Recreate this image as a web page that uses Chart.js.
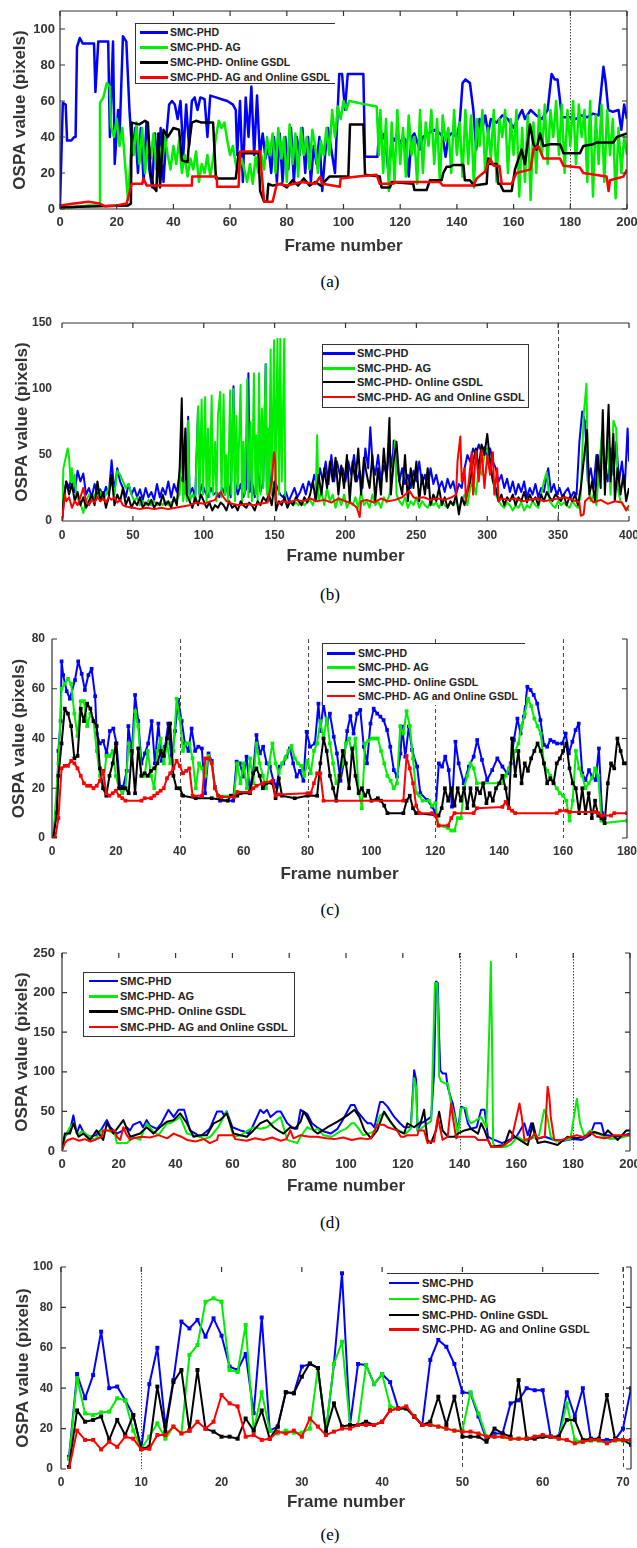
<!DOCTYPE html>
<html>
<head>
<meta charset="utf-8">
<title>OSPA comparison</title>
<script src="https://cdn.jsdelivr.net/npm/chart.js@4.4.1/dist/chart.umd.min.js"></script>
<style>
  html, body { margin: 0; padding: 0; background: #fff; }
  body { position: relative; width: 637px; height: 1548px; overflow: hidden; font-family: "Liberation Sans", Arial, sans-serif; }
  canvas { position: absolute; left: 0; }
  .legend { position: absolute; background: #fff; box-sizing: border-box; }
  .lrow { position: absolute; left: 0; width: 100%; height: 14px; white-space: nowrap; }
  .sw { position: absolute; top: 50%; }
  .lt { position: absolute; top: 0; line-height: 14px; font-weight: bold; color: #222; }
  .cap { position: absolute; width: 40px; text-align: center; font-family: "Liberation Serif", "Times New Roman", serif; font-size: 17px; line-height: 20px; color: #000; }
</style>
</head>
<body>
<script>
// Legend names and colours, shared by all five panels
const seriesNames = ['SMC-PHD', 'SMC-PHD- AG', 'SMC-PHD- Online GSDL', 'SMC-PHD- AG and Online GSDL'];
const seriesColors = ['#0000ff', '#00ee00', '#000000', '#ff0000'];

// (a) [frame, OSPA]
const aPhd = [[0,2],[1,59],[2,58],[2.5,38],[4,38],[5,40],[5.5,40],[6,90],[7,95],[8,92],[10,92],[12,92],[12.5,65],[13.5,93],[16,93],[17,93],[17.6,40],[18.7,93],[19.3,25],[20.5,55],[21,40],[22.2,96],[23.4,93],[24.5,55],[25.5,30],[26.5,45],[27.5,20],[28.5,45],[29.5,15],[30.5,48],[31.5,22],[32.5,12],[33.5,42],[34.5,18],[35.5,45],[36.5,15],[37.5,40],[38.5,58],[39.5,60],[40.5,58],[41.5,50],[42.5,60],[43.5,30],[44.5,58],[45.5,35],[46.5,60],[47.5,62],[48.5,55],[49.5,62],[51,61],[52,40],[53,63],[55,62],[57,61],[59,60],[61,58],[62,55],[62.5,30],[63.5,60],[64.5,15],[65.5,62],[66.5,40],[67.5,68],[68.5,30],[69.5,63],[70.5,30],[71.5,42],[72.5,28],[73.5,35],[74.5,20],[75.5,40],[76.5,15],[77.5,42],[78.5,15],[79.5,40],[80.5,22],[81.5,45],[82.5,15],[83.5,40],[84.5,30],[85.5,45],[86.5,20],[87.5,40],[88.5,15],[89.5,35],[90.5,25],[91.5,40],[92.5,10],[93.5,30],[94.5,45],[96,30],[97,20],[98.5,75],[99.5,75],[100.5,55],[101.5,75],[104,75],[107,75],[107.6,29],[110,29],[112,29],[112.8,51],[113.5,38],[114.5,42],[116,18],[117,40],[118,38],[119,42],[120,36],[121,40],[122,38],[123,18],[124,40],[125,42],[126.9,33],[128,40],[130,42],[132,44],[134,42],[135,40],[136,29],[137,40],[138,42],[140,40],[141,48],[142,70],[143,72],[144.6,70],[145.8,55],[146.8,33],[148,50],[149,45],[150,52],[151,42],[152,50],[154,48],[156,52],[158,50],[160,45],[162,52],[163,55],[164,50],[166,55],[168,52],[170,50],[172,55],[173.4,75],[174.5,72],[175.5,72],[176.4,60],[177,51],[180,51],[182,50],[184,52],[186,51],[188,53],[190,52],[191.7,79],[192.5,70],[193.4,55],[195,54],[197,55],[198,44],[199,58],[200,50]];
const aAg = [[0,0],[5,1],[10,2],[14,2],[14.1,59],[15.3,62],[16.5,70],[17.6,68],[18,46],[19,40],[20,50],[21,35],[22,45],[23,24],[24,5],[25.3,40],[26,30],[27,48],[28,25],[29,45],[30,20],[31,38],[32,28],[33,42],[34,22],[35,35],[36,25],[37,40],[38,30],[39,22],[40,35],[41,25],[42,38],[43,20],[44,30],[45,18],[46,28],[47,22],[48,32],[49,15],[50,25],[51,20],[52,30],[53,18],[54,28],[55,40],[56,49],[57,45],[58,48],[59,38],[60,30],[61,35],[62,25],[63,20],[64,28],[65,22],[66,15],[67,25],[68,14],[69,29],[70,20],[71,30],[72,22],[73,40],[74,30],[75,42],[76,20],[77,45],[78,28],[79,40],[80,15],[81,47],[82,25],[83,42],[84,18],[85,45],[86,30],[87,40],[88,22],[89,44],[90,35],[91,20],[92,38],[93,30],[94,45],[95,30],[96,55],[97,40],[98,57],[99,50],[100,60],[101,55],[102,60],[105,59],[108,58],[111.7,57],[112.5,30],[113,55],[114,20],[115,50],[116,10],[117,48],[118,15],[119,55],[120,25],[121,45],[122,18],[123,52],[124,30],[125,40],[126,14],[127,55],[128,20],[129,48],[130,35],[131,55],[132,25],[133,50],[134,15],[135,52],[136,38],[137,45],[138,20],[139,55],[140,30],[141,48],[142,18],[143,55],[144,25],[145,52],[146,12],[147,50],[148,35],[149,55],[150,20],[151,45],[152,28],[153,55],[154,15],[155,50],[156,40],[157,55],[158,20],[159,50],[160,30],[161,55],[162,7],[163,45],[164,15],[165,52],[166,5],[167,48],[168,20],[169,55],[170,30],[171,58],[172,25],[173,55],[174,40],[175,60],[176,30],[177,58],[178,20],[179,55],[180,35],[181,60],[182,25],[183,58],[184,40],[185,55],[186,15],[187,60],[188,7],[189,52],[190,25],[191,58],[192,15],[193,55],[194,30],[195,50],[196,6],[197,45],[198,20],[199,40],[200,30]];
const aGsdl = [[0,1],[24,2],[25,3],[25.3,48],[28,47],[30,49],[31,48],[32,20],[33,12],[34,10],[34.7,42],[35.3,12],[36.5,44],[38,40],[40,45],[42,44],[43,27],[45,26],[45.3,33],[46.5,48],[48,49],[50,48],[54,48],[55,17],[62,17],[63,31],[70,31],[70.6,10],[72,4],[73,4],[73.5,14],[75,13],[78,14],[80,12],[82,16],[84,13],[86,17],[88,13],[90,15],[92,13],[95,18],[101.7,18],[102.3,47],[107,47],[107.6,19],[112.8,18],[113.4,12],[116.4,12],[117,15],[124.6,14],[125,10.5],[129.3,10.5],[130.5,16],[134.6,16],[135.2,20],[136.4,23.5],[137.6,23.5],[138.7,24.4],[142.3,24.4],[142.8,16],[144.6,16],[146,13],[150.5,14],[151,28],[151.6,25],[154,25],[154.6,14],[155.2,14],[156.4,10],[159.3,10],[160.5,22],[162.8,33],[164,25],[165.8,47],[167,36],[168.1,33],[169.3,42],[170.5,35],[172.8,36],[176.4,36],[177.6,31],[183.4,31],[184.6,35],[188.1,36],[189.3,37],[195.2,37],[196.4,40],[200,42]];
const aAgGsdl = [[0,2],[5,3],[10,4],[14,3],[16,1.5],[20,2],[23.5,3],[24,6],[25.3,14],[29,14],[29.4,17],[30.6,13],[46.5,13],[46.6,18],[55.3,18],[55.4,12.4],[63,12.4],[63.5,32],[70.6,32],[71,22.6],[72,4],[75,4],[76.5,14],[80,13],[85,15],[90,14],[91.8,18],[92.5,14],[98.7,12.4],[99,17],[105,18],[111.7,19],[112.8,14],[117.6,14],[118,15],[134,15],[135,13],[145.8,13],[147,17],[150,21],[151.7,28],[153,24],[155,24],[155.8,14],[159.3,14],[161,20],[166,22],[167,33],[168.7,35],[170.5,28],[176.4,28],[177.6,24],[183.4,23],[184.6,20],[192.8,18],[193.5,10],[194,16],[198.7,18],[200,22]];

// (b)
const bPhd = [[0,0],[2,22],[3,30],[5,25],[7,35],[9,22],[11,38],[13,30],[15,36],[17,20],[19,25],[21,18],[23,28],[25,20],[27,24],[29,18],[31,26],[33,20],[35,46],[37,22],[39,40],[41,30],[43,25],[45,18],[47,28],[49,20],[51,25],[53,18],[55,24],[57,16],[59,25],[61,18],[63,22],[65,16],[67,28],[69,18],[71,25],[73,20],[75,30],[77,18],[79,28],[81,22],[83,35],[85,30],[87,25],[89,79],[90,20],[92,25],[94,18],[96,85],[97,20],[99,28],[101,22],[103,18],[105,25],[107,20],[109,22],[111,18],[113,25],[115,20],[117,30],[119,18],[121,102],[122,30],[124,20],[126,28],[128,18],[130,25],[131.5,112],[132.5,22],[134,30],[136,18],[138,40],[140,22],[142,30],[143.7,119],[144.5,25],[146,40],[148,20],[150,30],[152,25],[154,20],[156,18],[158,22],[160,15],[162,20],[164,25],[166,18],[168,22],[170,28],[172,20],[174,30],[176,25],[178,35],[180,25],[182,40],[184,30],[186,45],[188,28],[190,50],[192,30],[194,45],[196,35],[198,40],[200,30],[202,45],[204,35],[206,50],[208,30],[210,38],[212,25],[214,55],[216,40],[217.5,71],[219,45],[221,35],[223,50],[225,30],[227,42],[229,35],[231,55],[233,40],[234,61],[236,45],[238,30],[240,40],[242,28],[244,35],[246,25],[248,38],[250,30],[252,45],[254,28],[256,35],[258,25],[260,40],[262,28],[264,35],[266,25],[268,30],[270,22],[272,32],[274,25],[276,30],[278,20],[280,28],[282,25],[284,40],[286,50],[288,45],[290,55],[292,50],[294,58],[296,52],[298,56],[300,50],[302,55],[304,45],[306,40],[308,30],[310,35],[312,25],[314,32],[316,22],[318,30],[320,20],[322,28],[324,22],[326,30],[328,18],[330,25],[332,20],[334,28],[336,18],[338,25],[340,22],[342,35],[343,40],[345,22],[347,28],[349,20],[351,25],[353,18],[355,22],[357,25],[359,18],[361,22],[363,20],[365,60],[367,83],[369,75],[371,30],[373,40],[375,25],[377,50],[379,35],[381,65],[383,40],[385,30],[387,55],[389,35],[391,60],[393,30],[395,45],[397,25],[399,70],[400,45]];
const bAg = [[0,0],[1,40],[3,50],[4,55],[5,48],[6,30],[7,40],[8,25],[9,35],[10,20],[12,15],[14,10],[15,6],[17,15],[19,20],[21,15],[23,20],[25,18],[27,22],[29,16],[31,20],[33,25],[35,30],[37,20],[39,38],[41,35],[43,30],[45,25],[47,28],[49,20],[51,15],[53,18],[55,12],[57,15],[59,12],[61,16],[63,12],[65,15],[67,12],[69,14],[71,12],[73,15],[75,12],[77,14],[79,15],[81,16],[83,20],[84.7,65],[85.5,15],[87,30],[88,15],[89,76],[90,15],[92,20],[94,15],[96,87],[97,18],[98.5,92],[99.5,20],[101,94],[102,15],[103,70],[104,18],[105.6,95],[106.5,20],[108,60],[109,15],[110,80],[111.6,98],[112.5,18],[114,96],[115,20],[116,50],[117,15],[118.6,99],[119.5,20],[121,100],[122,15],[123,80],[124,25],[126,103],[127,15],[128,60],[129,20],[130.7,108],[131.5,18],[133,75],[134,15],[135.4,112],[136.5,20],[137,65],[138,15],[139,112],[140,20],[141,85],[142,25],[143.7,119],[144.5,20],[145.5,70],[146,15],[147.2,130],[148,20],[149,90],[149.6,137],[150.5,25],[151,60],[152,138],[153,20],[154,138],[155,30],[156.8,138],[157.5,15],[159,12],[161,15],[163,12],[165,14],[167,12],[169,15],[171,12],[173,14],[175,16],[177,12],[179,20],[180,65],[181,15],[183,22],[185,12],[187,25],[189,15],[191,20],[193,10],[195,18],[197,12],[199,20],[201,10],[203,15],[205,12],[207,18],[209,10],[211,22],[213,12],[215,15],[217,10],[219,20],[221,12],[223,15],[225,10],[227,18],[229,14],[231,20],[233,35],[235,61],[236,20],[238,15],[240,12],[242,18],[244,10],[246,15],[248,12],[250,18],[252,10],[254,15],[256,12],[258,10],[260,15],[262,12],[264,14],[266,10],[268,15],[270,12],[272,10],[274,14],[276,12],[278,15],[280,10],[282,15],[284,20],[286,12],[288,25],[290,30],[292,20],[294,40],[296,35],[298,50],[300,55],[302,45],[304,30],[306,20],[308,15],[310,12],[312,10],[314,14],[316,12],[318,8],[320,12],[322,10],[324,14],[326,8],[328,12],[330,10],[332,15],[334,12],[336,10],[338,20],[340,30],[342,37],[344,15],[346,12],[348,10],[350,15],[352,12],[354,14],[356,12],[358,10],[360,15],[362,12],[364,10],[366,20],[368,80],[370,104],[371,30],[373,15],[375,20],[377,12],[379,40],[381,68],[383,30],[385,60],[387,20],[389,76],[391,70],[392,25],[394,15],[396,12],[398,10],[400,8]];
const bGsdl = [[0,0],[1,15],[3,30],[5,20],[7,28],[9,15],[11,22],[13,12],[15,18],[17,10],[19,15],[21,20],[23,12],[25,30],[27,15],[29,22],[31,10],[33,18],[35,35],[37,12],[39,20],[41,15],[43,25],[45,12],[47,18],[49,10],[51,15],[53,12],[55,18],[57,10],[59,14],[61,12],[63,16],[65,10],[67,14],[69,12],[71,20],[73,12],[75,15],[77,10],[79,18],[81,12],[83,40],[84.5,93],[85.5,30],[87,70],[88,20],[90,15],[92,10],[94,18],[96,12],[98,20],[100,15],[102,10],[104,14],[106,8],[108,12],[110,10],[112,14],[114,12],[116,8],[118,15],[120,10],[122,12],[124,8],[126,15],[128,12],[130,10],[132,14],[134,12],[136,8],[138,15],[140,12],[142,18],[144,15],[146,20],[148,12],[150,30],[151,8],[153,15],[155,12],[157,18],[159,10],[161,15],[163,12],[165,18],[167,15],[169,12],[171,18],[173,14],[175,20],[177,30],[179,15],[181,35],[183,20],[185,40],[187,25],[189,45],[191,30],[193,48],[195,20],[197,42],[199,25],[201,50],[203,15],[205,45],[207,30],[209,55],[211,20],[213,48],[215,35],[217,25],[219,50],[221,15],[223,40],[225,20],[227,55],[229,30],[231,78],[232,20],[234,45],[236,60],[238,30],[240,20],[242,50],[244,15],[246,40],[248,25],[250,45],[252,15],[254,35],[256,20],[258,40],[260,12],[262,20],[264,15],[266,25],[268,12],[270,18],[272,10],[274,15],[276,12],[278,20],[280,5],[282,18],[284,12],[286,22],[288,30],[290,45],[292,55],[294,40],[296,58],[298,50],[300,66],[302,45],[304,30],[306,25],[308,15],[310,20],[312,12],[314,18],[316,15],[318,20],[320,12],[322,18],[324,15],[326,22],[328,14],[330,20],[332,15],[334,18],[336,12],[338,20],[340,15],[342,22],[344,18],[346,15],[348,20],[350,18],[352,15],[354,20],[356,12],[358,18],[360,15],[362,20],[364,12],[366,25],[368,45],[370.4,69],[372,20],[374,30],[376,15],[378,50],[380,25],[381.5,84],[383,20],[385.6,88],[387,30],[389,66],[390,15],[392,40],[394,20],[396,35],[398,15],[400,25]];
const bAgGsdl = [[0,0],[1,10],[2,20],[3,15],[5,18],[7,10],[9,15],[11,12],[13,18],[15,25],[17,15],[19,12],[21,16],[23,14],[25,18],[27,15],[29,17],[31,14],[33,18],[35,16],[37,18],[39,14],[41,16],[43,12],[45,11],[50,10],[55,9],[60,10],[65,9],[70,10],[75,9],[80,10],[85,11],[90,12],[95,14],[100,13],[105,15],[108,16],[110,20],[112,22],[114,18],[116,15],[120,13],[125,12],[130,13],[135,12],[140,13],[145,14],[148,30],[149.6,52],[150.5,45],[151,15],[153,13],[155,15],[160,14],[165,16],[170,15],[175,17],[180,15],[185,16],[190,14],[195,17],[200,15],[205,13],[208,10],[210,3],[211,15],[215,16],[220,14],[225,17],[230,15],[235,16],[240,18],[245,23],[248,18],[250,17],[255,18],[260,16],[265,17],[270,16],[275,18],[278,20],[279,45],[281,64],[282,30],[284,40],[285,15],[287,30],[289,52],[290,20],[292,53],[294,30],[296,54],[298,25],[300,50],[302,35],[304,52],[305,20],[307,40],[308,15],[310,17],[315,16],[320,17],[325,15],[330,16],[335,17],[340,15],[345,16],[350,17],[355,18],[360,16],[365,14],[366,4],[368,5],[369,15],[372,18],[375,14],[380,16],[385,13],[390,15],[395,14],[398,8],[400,12]];

// (c)
const cPhd = [[0.4,0.5],[1.5,12.6],[2,35],[2.7,47],[3,71],[3.5,65.5],[4.6,59],[5.6,56],[7.2,63.5],[8.2,71],[9.3,66],[10.3,59.5],[11.4,65.5],[12.4,68],[13.5,57],[14,42],[15,38],[16,39],[17.1,34],[18.1,43],[19.2,44],[20.2,38],[21.3,20.6],[22.3,20.6],[23.4,27],[23.9,45],[25,34],[26,57.5],[27,47],[28,30],[29.1,34],[30.1,38],[31.2,47],[32.2,30],[33.3,46],[34.3,31],[35.4,36.7],[36.4,46],[37.4,31],[38.5,43],[39.5,55.5],[40.6,47],[41.6,38],[42.7,35],[43.7,44],[44.8,35],[45.8,36.7],[46.9,36],[47.9,18],[49,34],[50,31],[51,20.6],[52.6,15],[56.7,15],[57.8,30.7],[58.8,30],[59.9,24.7],[60.9,32.7],[61.9,19.3],[63,27],[64,41.4],[65.1,34],[66.1,36.7],[67.2,30],[68.2,28.7],[69.3,23],[70.3,20.6],[71.3,28.7],[72.4,30],[73.4,32.7],[74.5,36],[75.5,30],[76.6,24.7],[77.6,27],[78.7,23],[79.7,42.7],[80.8,36.7],[82.3,38],[83.4,54],[84,43],[85,54],[86,46],[87,50],[88.2,40.7],[89.2,34],[90.3,23],[91.3,30],[92.4,43],[93.4,49],[94.4,42],[95.5,50],[96.5,51.5],[97.6,36.7],[98.6,30],[99.7,46],[100.7,52],[101.8,50],[102.8,48.8],[103.8,47.4],[104.9,43.4],[105.9,36.7],[107,27.3],[108,24.7],[109.1,34],[109.6,44.8],[110.6,32.7],[111.7,44.8],[112.7,35.4],[114.3,28.7],[115.3,18],[117.4,15.3],[119,12.6],[120,10],[121.1,30],[122.1,28.7],[123.1,32.7],[124.2,27.3],[125.2,12.6],[126.3,38.7],[127.3,30],[128.9,22],[130.5,28.7],[132,32.7],[133.1,39.4],[134.6,31.4],[136.2,23.3],[137.8,27.3],[139.4,32],[141,28.7],[142.5,26],[143.6,30],[144.6,39.4],[145.7,48],[146.7,42],[147.7,48.8],[148.8,60.8],[149.8,59.5],[150.8,57.5],[151.9,54],[152.9,47.4],[154,37.4],[155,36.7],[156,39.4],[157.1,38.7],[158.1,38],[159.7,38],[160.8,42],[161.8,34],[162.9,38.7],[163.9,43.4],[164.9,46],[166,26],[167,23.3],[168.1,27.3],[169.1,24.7],[170.2,23.3],[171.2,36],[172.2,10],[173,8]];
const cAg = [[0.4,0],[2,30],[3,60],[4,62],[5,64],[6,62],[7,50],[8,41],[9,55],[10,55],[11,45],[12,50],[13,47],[14,35],[15,25],[16,20],[17,33],[18,33],[19,35],[20,25],[21,20],[22,18],[23,20],[24,38],[25,30],[26,51],[27,45],[28,25],[29,25],[30,35],[31,25],[32,20],[33,35],[34,40],[35,30],[36,38],[37,30],[38,35],[39,56],[40,48],[41,35],[42,38],[43,38],[44,32],[45,20],[46,30],[47,28],[48,25],[49,33],[50,30],[51,20],[52,17],[57,17],[58,30],[59,22],[60,30],[61,20],[62,32],[63,22],[64,38],[65,30],[66,25],[67,20],[68,30],[69,38],[70,30],[71,26],[72,30],[73,32],[74,35],[75,37],[76,32],[77,30],[78,29],[79,25],[80,31],[81,26],[82,35],[83,38],[84,47],[85,40],[86,48],[87,38],[88,30],[89,22],[90,25],[91,30],[92,38],[93,40],[94,33],[95,40],[96,19],[97,12],[98,38],[99,39],[100,40],[101,40],[102,40],[103,35],[104,30],[105,25],[106,23],[107,20],[108,22],[109,45],[110,42],[111,51],[112,45],[113,32],[114,18],[115,17],[116,15],[118,15],[119,13],[120,14],[121,5],[124,4],[125,3],[126,3],[127,8],[128,8],[129,20],[130,25],[131,30],[132,28],[133,22],[141,22],[142,25],[143,28],[144,32],[145,35],[146,38],[147,45],[148,50],[149,56],[150,53],[151,48],[152,45],[153,42],[154,30],[155,27],[156,25],[157,22],[158,20],[159,18],[160,17],[161,15],[162,7],[163,15],[164,35],[165,28],[166,25],[167,20],[168,22],[169,24],[170,28],[171,25],[172,7],[173,6],[180,7]];
const cGsdl = [[0.4,0],[1.5,10],[2,25],[3,38],[4,52],[5,50],[6,45],[7,32],[8,33],[9,52],[10,47],[11,54],[12,52],[13,47],[14,45],[15,28],[16,20],[17,17],[18,25],[19,30],[20,38],[21,20],[22,20],[23,20],[24,18],[25,35],[26,18],[27,36],[28,25],[29,26],[30,25],[31,27],[32,28],[33,30],[34,35],[35,33],[36,40],[37,46],[38,25],[39,20],[40,20],[41,17],[45,16],[50,16],[55,15],[56,17],[58,17],[59,18],[62,18],[63,26],[64,28],[65,25],[66,20],[67,22],[69,22],[70,16],[71,24],[72,17],[76,16],[80,17],[83,17],[84,30],[85,40],[86,35],[87,25],[88,20],[89,15],[90,25],[91,35],[92,30],[93,20],[94,36],[95,25],[96,18],[97,20],[98,17],[99,19],[100,15],[102,16],[103,15],[104,13],[105,10],[110,10],[111,15],[112,17],[113,12],[114,10],[121,9],[122,12],[123,20],[124,15],[125,20],[126,13],[127,20],[128,15],[129,20],[130,12],[131,20],[132,13],[133,20],[134,18],[135,22],[136,14],[137,18],[138,15],[139,20],[140,22],[141,25],[142,20],[143,12],[144,40],[145,25],[146,35],[147,22],[148,30],[149,27],[150,32],[151,35],[152,38],[153,35],[154,30],[155,22],[156,24],[157,22],[158,30],[159,32],[160,35],[161,38],[162,28],[163,22],[164,20],[165,10],[166,20],[167,10],[168,18],[169,8],[170,15],[171,9],[172,8],[173,6],[174,22],[175,30],[176,28],[177,40],[178,35],[179,30],[180,30]];
const cAgGsdl = [[0.4,0],[1,0],[2,8],[3,28],[4,29],[5,29],[6,31],[7,30],[8,28],[9,25],[10,22],[11,21],[12,21],[13,20],[14,21],[15,23],[16,27],[17,18],[18,17],[19,18],[20,19],[21,17],[22,16],[23,15],[28,15],[29,16],[31,16],[32,17],[33,18],[34,19],[35,20],[36,24],[37,26],[38,28],[39,31],[40,29],[41,26],[42,27],[43,28],[44,17],[47,17],[48,32],[49,32],[50,30],[51,20],[52,17],[53,16.5],[57,16.5],[58,18.5],[62,18.5],[63,20],[64,21],[66,22],[69,23],[70,17],[71,17.5],[80,18],[81,18],[82,22],[83,26],[84,26],[85,15],[110,15],[111,33],[112,28],[113,22],[114,13],[115,10],[119,10],[120,9],[121,5],[124,5],[125,8],[126,10],[132,10],[133,12],[141,12.5],[142,14.5],[143,12],[144,11],[145,10],[158,10],[159,11],[161,11],[162,10.5],[170,10.5],[171,10],[172,9],[175,9],[176,10],[180,10]];

// (d)
const dPhd = [[0,1],[1,18],[2.8,26],[4,45],[5.2,22],[6.3,33],[7.5,24],[8.7,20],[10,18],[12,20],[14,28],[15.8,39],[17,30],[19.3,22],[21,25],[22.8,30],[24,26],[25,33],[27.5,37],[28.5,30],[29.8,39],[31,32],[33.4,28],[35,35],[37.5,52],[39.3,43],[41,52],[43,52],[45.1,26],[47,22],[48.6,18],[50,22],[52,28],[54.6,50],[56.3,50],[57,45],[58,50],[60,30],[62.8,26],[64,25],[65.6,22],[67,30],[69.8,52],[71,48],[72.2,52],[73.4,43],[75.7,50],[77,50],[79.3,35],[81,30],[82.8,28],[84,52],[86.3,47],[88,35],[89.8,30],[92,25],[94.6,22],[97,28],[99,40],[101.7,58],[103,58],[104,50],[106.5,39],[107.6,35],[108.8,35],[110,30],[112,62],[113,62],[114.6,56],[117,43],[119,35],[120.5,30],[122.8,30],[124,102],[124.7,90],[125.2,26],[126.4,35],[128,38],[130,43],[131,98],[131.7,214],[132.3,212],[132.8,144],[133.2,102],[134,98],[135.2,98],[135.8,81],[137,66],[137.6,60],[139.4,26],[140.5,56],[141.7,54],[142.9,35],[144,28],[146,30],[147.6,52],[148.8,52],[150,18],[151,16],[155,10],[158,15],[160,18],[162.8,35],[164,20],[165.2,35],[167,15],[170,18],[175,12],[180,15],[183,14],[186,20],[187.5,35],[189.9,35],[191,20],[192.2,20],[195,18],[198,20],[200,22]];
const dAg = [[0,1],[1,18],[2.8,30],[4,35],[5.5,20],[7,25],[9,20],[11.6,14],[14,26],[16,26],[18.6,22],[19.3,10],[22.9,10],[25,18],[27.5,14],[29.8,35],[32,25],[34,20],[37,35],[38,35],[40.4,40],[41.6,43],[44,22],[46,20],[48.6,18],[50,15],[52.2,18],[55,30],[58,50],[60.4,18],[63,20],[65,25],[67.4,30],[70,28],[72.2,30],[74,35],[77,43],[78,30],[79.3,14],[81,12],[82.8,10],[84,18],[86.3,30],[88.6,26],[90,28],[92,20],[95,18],[98,25],[100,28],[102,35],[103,35],[104.5,28],[106,20],[108,22],[110,25],[112,45],[113.4,48],[115,40],[117,30],[119,25],[121,22],[122.8,28],[124,92],[124.7,80],[125.2,25],[127,30],[130,38],[131.3,212],[132,212],[132.3,195],[132.8,94],[133.5,88],[135,85],[135.8,86],[137,60],[138.5,40],[139.4,20],[140.5,54],[142.3,54],[143,40],[144,35],[145.5,38],[147.6,43],[149.4,30],[150.5,161],[151,239],[151.4,148],[151.8,10],[152.5,5],[156,5],[158,8],[160.5,18],[163,12],[165,15],[168,20],[169.8,52],[170.9,43],[172.1,18],[174,12],[177,14],[179,15],[181.3,66],[182.4,35],[184,18],[186,26],[188.3,22],[190,20],[193,15],[196,16],[198,18],[200,20]];
const dGsdl = [[0,1],[1,22],[2.8,22],[4,35],[5.8,18],[7.5,22],[9.9,14],[12.2,26],[14.5,14],[15.8,35],[18.1,22],[21.6,39],[24,18],[27.5,22],[29.8,30],[32.2,22],[34.5,30],[36.9,37],[39.3,39],[41.6,47.5],[44,35],[46.3,18],[48.6,20],[51,20],[53.4,35],[55.7,39],[58,47.5],[60.4,22],[62.8,20],[65.1,18],[67.4,26],[69.8,35],[72.2,39],[74.5,30],[76.5,25],[78,22],[80.4,30],[82,28],[84,37],[85.1,49.7],[86.3,43],[88.6,26],[90,22],[93.5,30],[97,37],[100.5,45],[103,52],[104.7,43],[106.5,26],[108.8,16],[111,26],[113.4,49.7],[115.7,37],[118,26],[120.5,22],[121.6,35],[124,30],[126.4,37],[127.5,52],[128.7,14],[129.9,10],[131.7,26],[132.8,49.7],[134,26],[135.8,18],[138.2,18],[139.4,22],[141.7,26],[144,28],[146.5,22],[147.6,35],[148.8,26],[150,14],[151.1,5.5],[155.8,7.5],[157.6,26],[159.4,18],[162.9,10],[164,7.5],[165.8,35],[167.5,10],[170,12],[172.1,10],[174.5,7.5],[178,18],[181,16],[183.9,18],[187.5,24],[191,20],[192.2,26],[195.7,14],[198.7,26],[200,26]];
const dAgGsdl = [[0,1],[1,10],[2,14],[4,16],[6,13],[8,15],[10,12],[11.6,14],[14,18],[14.5,26],[18.6,26],[19.3,18],[20.5,14],[21.6,30],[22.8,20],[24,14],[25,16],[28,18],[31,17],[34,20],[37,16],[39.3,22],[42,18],[44,14],[47,12],[50,15],[52,10],[54.6,14],[55,20],[60.4,20],[61,15],[65,13],[68,16],[71,14],[74,17],[77,13],[79,15],[80.4,26],[81.5,16],[84,20],[87,18],[89.8,18],[93,16],[96,15],[99,17],[102,14],[105,16],[107.6,15],[108.8,16],[111,33],[113.4,33],[114.6,30],[118,26],[119.3,18],[120.5,18],[121.6,20],[125.2,20],[125.5,26],[127.5,26],[128.7,10],[129.9,12],[131,12],[132.3,43],[132.8,35],[134,14],[135.8,18],[137,60],[137.6,43],[138.8,16],[139.4,18],[145.3,18],[146.5,14],[150,14],[151.1,5.5],[154.7,5.5],[155.8,7.5],[158.2,14],[161.1,60],[161.9,43],[162.8,14],[165.2,16],[166.4,22],[167.5,16],[170,18],[171,81],[171.6,68],[172.1,43],[173.3,14],[176,14],[179.2,18],[181.3,20],[184,17],[186,24],[188,18],[191,16],[193.2,18],[194.4,20],[197,20],[200.3,20]];

// (e) one value per frame
const eFrames = [1,2,3,4,5,6,7,8,9,10,11,12,13,14,15,16,17,18,19,20,21,22,23,24,25,26,27,28,29,30,31,32,33,34,35,36,37,38,39,40,41,42,43,44,45,46,47,48,49,50,51,52,53,54,55,56,57,58,59,60,61,62,63,64,65,66,67,68,69,70,71];
const ePhd = [6,47,35,46.5,68,40,40.8,34,26.7,10,42,60,21,44,73,69.6,73.8,65.5,74.6,66,50.7,49,57,27.6,75,19,21,38,37.5,50.7,52,50,18.5,52,96.9,21.8,52,51.5,42,47,43,30,30,26,21.8,54,63.9,60.5,52,38,37.5,26,14.4,17.6,17.6,32.5,34,40,39,39,16,16,38,26,40,14.4,14.4,14.4,14.4,20,40];
const eAg = [5,45,27.5,26.7,28,28.4,35,34,19,10,16,22.6,15,21,17.6,56.4,61.4,82.8,84.5,82.8,49,48,71.3,19,38,19,17.6,19,18,18,20,50,19,52,63,21.8,21.8,51.5,42,47,31,30,30,26,21.8,22,21,20,19,19,38,27.5,16,16,16,15,15,15,16,16,16,15,32.5,14.4,13.5,14,14,13,14,14,14];
const eGsdl = [1,29,23.4,24.3,26,14.4,24.3,16.8,26.7,10,11,40.8,18.5,43,49,19,49,20,18.5,16,16,15,25,19,29,15,21,38,37.5,45.7,52.3,50,18.5,32.5,21,21.8,21.8,23.4,21.8,23.4,29,30,30,26,21.8,23.4,35.8,21.8,35.8,16,16,16,13.5,20,17.6,16,44,15,15,16,16,16,24.3,24.3,14.4,15,15,36.6,15,14.4,12];
const eAgGsdl = [0,19,14.4,14.4,9.7,13.5,11,16,15,9.7,10,16.8,16.8,21,17.6,19,23.4,20,23.4,36.6,32.5,31,16,16.8,14.4,15,18.5,17.6,19,16,25,21,16.8,18.5,20,20,21.8,21.8,21.8,23.4,29,30,31,26,21.8,21.8,21,20,19,18.5,18.5,17.6,16,16,16,15,15,15,16,16.8,16,15,14.4,12.7,13.5,14.4,14.4,12.7,14.4,14.4,14.4];

const toPairs = vals => eFrames.map((f, i) => [f, vals[i]]);

// Layout of each panel, in page pixels
const panels = [
  { top: 0, titleY: 247, plot: { left: 60, right: 627, top: 11, bottom: 209 },
    xMax: 200, xStep: 20, yMax: 110, yStep: 20, series: [aPhd, aAg, aGsdl, aAgGsdl],
    lineWidth: 2.5, pointRadius: 0, tickFont: 13, xTickPad: 6, yTickPad: 5, yTitlePad: 10,
    vlines: [[180, 'dot']], sides: 'tlbr', tickSides: 'tlbr',
    legend: { left: 135, top: 23, width: 200, height: 61, sides: 'tlb', rows: [32, 47, 62, 77], swFrom: 140, swTo: 168, textX: 170, font: 10.5, sw: [3, 3, 3, 3] },
    caption: ['(a)', 282] },
  { top: 300, titleY: 557, plot: { left: 62, right: 629, top: 323, bottom: 521 },
    xMax: 400, xStep: 50, yMax: 150, yStep: 50, series: [bPhd, bAg, bGsdl, bAgGsdl],
    lineWidth: 2, pointRadius: 0, tickFont: 12, xTickPad: 7, yTickPad: 10, yTitlePad: 12,
    vlines: [[350, 'dash']], sides: 'tb', tickSides: 'tb',
    legend: { left: 322, top: 344, width: 207, height: 64, sides: 'tlbr', rows: [353, 368, 382, 397], swFrom: 323, swTo: 355, textX: 357, font: 11, sw: [3, 3, 1.5, 1.5] },
    caption: ['(b)', 595] },
  { top: 620, titleY: 875, plot: { left: 52, right: 627, top: 639, bottom: 838 },
    xMax: 180, xStep: 20, yMax: 80, yStep: 20, series: [cPhd, cAg, cGsdl, cAgGsdl],
    lineWidth: 2, pointRadius: 1.2, tickFont: 12, xTickPad: 6, yTickPad: 7, yTitlePad: 9,
    vlines: [[40, 'dash'], [80, 'dash'], [120, 'dash'], [160, 'dash']], sides: 'lr', tickSides: 'lr',
    legend: { left: 322, top: 643, width: 203, height: 62, sides: 'tl', rows: [653, 667, 682, 696], swFrom: 327, swTo: 355, textX: 358, font: 10.5, sw: [3, 3, 1.5, 2] },
    caption: ['(c)', 910] },
  { top: 930, titleY: 1187, plot: { left: 62, right: 630, top: 953, bottom: 1151 },
    xMax: 200, xStep: 20, yMax: 250, yStep: 50, series: [dPhd, dAg, dGsdl, dAgGsdl],
    lineWidth: 2, pointRadius: 0, tickFont: 13, xTickPad: 6, yTickPad: 7, yTitlePad: 12,
    vlines: [[140, 'dot'], [180, 'dot']], sides: 'lr', tickSides: 'tlr',
    legend: { left: 83, top: 972, width: 212, height: 65, sides: 'tlbr', rows: [981, 996, 1011, 1027], swFrom: 89, swTo: 118, textX: 120, font: 11, sw: [1.5, 3, 3, 1.5] },
    caption: ['(d)', 1223] },
  { top: 1245, titleY: 1503, plot: { left: 61, right: 635, top: 1267, bottom: 1469 },
    xMax: 71, xStep: 10, yMax: 100, yStep: 20, series: [toPairs(ePhd), toPairs(eAg), toPairs(eGsdl), toPairs(eAgGsdl)],
    lineWidth: 2, pointRadius: 1.4, tickFont: 12, xTickPad: 6, yTickPad: 8, yTitlePad: 13,
    vlines: [[10, 'dot'], [50, 'dash'], [70, 'dash']], sides: 'lr', tickSides: 'tlr',
    legend: { left: 387, top: 1273, width: 212, height: 62, sides: 't', rows: [1283, 1299, 1315, 1329], swFrom: 390, swTo: 420, textX: 423, font: 11, sw: [1.5, 2, 2.5, 3] },
    caption: ['(e)', 1535] }
];

Chart.defaults.font.family = '"Liberation Sans", Arial, sans-serif';
Chart.defaults.color = '#333';

// MATLAB-like frame: border lines, inward ticks, dashed markers
const framePlugin = {
  id: 'frame',
  beforeDatasetsDraw(chart, args, opts) {
    const { ctx, chartArea: ca, scales: { x } } = chart;
    ctx.save();
    ctx.strokeStyle = '#444';
    ctx.lineWidth = 1;
    opts.vlines.forEach(([v, style]) => {
      const px = Math.round(x.getPixelForValue(v)) + 0.5;
      ctx.setLineDash(style === 'dot' ? [1.5, 1.5] : [4, 3]);
      ctx.beginPath();
      ctx.moveTo(px, ca.top);
      ctx.lineTo(px, ca.bottom);
      ctx.stroke();
    });
    ctx.restore();
  },
  afterDatasetsDraw(chart, args, opts) {
    const { ctx, chartArea: ca, scales: { x, y } } = chart;
    ctx.save();
    ctx.strokeStyle = '#333';
    ctx.lineWidth = 1.2;
    ctx.beginPath();
    if (opts.sides.includes('t')) { ctx.moveTo(ca.left, ca.top); ctx.lineTo(ca.right, ca.top); }
    if (opts.sides.includes('b')) { ctx.moveTo(ca.left, ca.bottom); ctx.lineTo(ca.right, ca.bottom); }
    if (opts.sides.includes('l')) { ctx.moveTo(ca.left, ca.top); ctx.lineTo(ca.left, ca.bottom); }
    if (opts.sides.includes('r')) { ctx.moveTo(ca.right, ca.top); ctx.lineTo(ca.right, ca.bottom); }
    ctx.stroke();
    const len = 5;
    ctx.beginPath();
    x.ticks.forEach(t => {
      const px = x.getPixelForValue(t.value);
      if (opts.tickSides.includes('t')) { ctx.moveTo(px, ca.top); ctx.lineTo(px, ca.top + len); }
      if (opts.tickSides.includes('b')) { ctx.moveTo(px, ca.bottom); ctx.lineTo(px, ca.bottom - len); }
    });
    y.ticks.forEach(t => {
      const py = y.getPixelForValue(t.value);
      if (opts.tickSides.includes('l')) { ctx.moveTo(ca.left, py); ctx.lineTo(ca.left + len, py); }
      if (opts.tickSides.includes('r')) { ctx.moveTo(ca.right, py); ctx.lineTo(ca.right - len, py); }
    });
    ctx.stroke();
    ctx.restore();
  }
};

function addLegend(L) {
  const box = document.createElement('div');
  box.className = 'legend';
  box.style.left = L.left + 'px';
  box.style.top = L.top + 'px';
  box.style.width = L.width + 'px';
  box.style.height = L.height + 'px';
  const names = { t: 'borderTop', r: 'borderRight', b: 'borderBottom', l: 'borderLeft' };
  Object.keys(names).forEach(k => {
    if (L.sides.includes(k)) box.style[names[k]] = '1px solid #333';
  });
  seriesNames.forEach((name, i) => {
    const row = document.createElement('div');
    row.className = 'lrow';
    row.style.top = (L.rows[i] - L.top - 8) + 'px';
    const sw = document.createElement('span');
    sw.className = 'sw';
    sw.style.left = (L.swFrom - L.left - 1) + 'px';
    sw.style.width = (L.swTo - L.swFrom) + 'px';
    sw.style.height = L.sw[i] + 'px';
    sw.style.marginTop = (-L.sw[i] / 2) + 'px';
    sw.style.background = seriesColors[i];
    const tx = document.createElement('span');
    tx.className = 'lt';
    tx.style.left = (L.textX - L.left - 1) + 'px';
    tx.style.fontSize = L.font + 'px';
    tx.textContent = name;
    row.append(sw, tx);
    box.appendChild(row);
  });
  document.body.appendChild(box);
}

panels.forEach(p => {
  const height = Math.round(p.titleY - p.top + 10);
  const canvas = document.createElement('canvas');
  canvas.width = 637;
  canvas.height = height;
  canvas.style.top = p.top + 'px';
  document.body.appendChild(canvas);

  const xHeight = height - (p.plot.bottom - p.top);
  const tickFont = { size: p.tickFont, weight: 'bold' };

  new Chart(canvas.getContext('2d'), {
    type: 'line',
    data: {
      datasets: p.series.map((s, i) => ({
        label: seriesNames[i],
        data: s.map(([f, v]) => ({ x: f, y: v })),
        borderColor: seriesColors[i],
        backgroundColor: seriesColors[i],
        borderWidth: p.lineWidth,
        pointRadius: p.pointRadius,
        pointStyle: 'rect',
        borderJoinStyle: 'round',
        tension: 0,
        order: 4 - i
      }))
    },
    options: {
      responsive: false,
      animation: false,
      events: [],
      layout: { padding: { top: p.plot.top - p.top, right: 637 - p.plot.right, left: 0, bottom: 0 } },
      plugins: {
        legend: { display: false },
        tooltip: { enabled: false },
        frame: { vlines: p.vlines, sides: p.sides, tickSides: p.tickSides }
      },
      scales: {
        x: {
          type: 'linear',
          min: 0,
          max: p.xMax,
          grid: { display: false, drawTicks: false },
          border: { display: false },
          ticks: { stepSize: p.xStep, includeBounds: false, font: tickFont, color: '#333', padding: p.xTickPad, maxRotation: 0 },
          title: { display: true, text: 'Frame number', font: { size: 17, weight: 'bold' }, color: '#333', padding: 0 },
          afterFit: s => { s.height = xHeight; s.paddingLeft = 0; s.paddingRight = 0; }
        },
        y: {
          min: 0,
          max: p.yMax,
          grid: { display: false, drawTicks: false },
          border: { display: false },
          ticks: { stepSize: p.yStep, includeBounds: false, font: tickFont, color: '#333', padding: p.yTickPad },
          title: { display: true, text: 'OSPA value (pixels)', font: { size: 17, weight: 'bold' }, color: '#333', padding: { top: p.yTitlePad, bottom: 0 } },
          afterFit: s => { s.width = p.plot.left; s.paddingTop = 0; s.paddingBottom = 0; }
        }
      }
    },
    plugins: [framePlugin]
  });

  addLegend(p.legend);

  const cap = document.createElement('div');
  cap.className = 'cap';
  cap.style.left = '310px';
  cap.style.top = (p.caption[1] - 10) + 'px';
  cap.textContent = p.caption[0];
  document.body.appendChild(cap);
});
</script>
</body>
</html>
